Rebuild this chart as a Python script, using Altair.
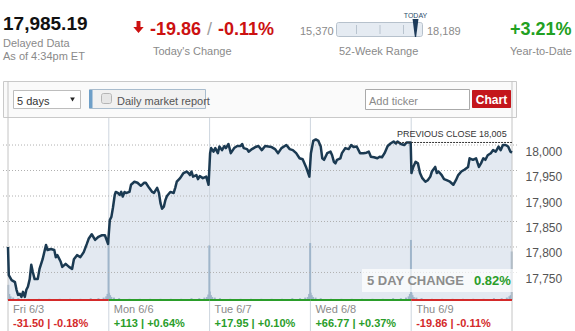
import altair as alt
import pandas as pd

FONT = "Liberation Sans"

# ---------------- data ----------------
DAYS = ["Fri 6/3", "Mon 6/6", "Tue 6/7", "Wed 6/8", "Thu 6/9"]
DAY_CHANGE = ["-31.50 | -0.18%", "+113 | +0.64%", "+17.95 | +0.10%", "+66.77 | +0.37%", "-19.86 | -0.11%"]
DAY_DIR = ["down", "up", "up", "up", "down"]

FRI_MIN = [0, 3, 14, 27, 33, 39, 46, 52, 58, 65, 71, 77, 84, 90, 96, 103, 115, 122, 134,
           147, 153, 166, 179, 185, 191, 204, 210, 223, 236, 248, 255, 267, 280, 293, 305,
           312, 324, 337, 350, 362, 375, 387]
FRI_PX = [17800, 17745, 17735, 17731, 17716, 17706, 17708, 17702, 17712, 17702, 17716, 17722,
          17737, 17765, 17751, 17737, 17737, 17757, 17776, 17804, 17794, 17796, 17794, 17780,
          17784, 17771, 17761, 17767, 17761, 17757, 17776, 17784, 17780, 17790, 17806, 17816,
          17825, 17814, 17820, 17823, 17823, 17806]

MON_MIN = [4, 10, 16, 23, 27, 35, 42, 48, 54, 61, 67, 80, 86, 99, 111, 124, 137, 143, 156, 168,
           175, 187, 194, 200, 206, 213, 219, 225, 238, 251, 257, 263, 276, 289, 301, 308, 314,
           320, 326, 339, 345, 352, 364, 377, 386]
MON_PX = [17853, 17859, 17877, 17902, 17908, 17906, 17902, 17908, 17899, 17908, 17906, 17908,
          17922, 17928, 17926, 17920, 17926, 17926, 17916, 17908, 17906, 17916, 17906, 17886,
          17875, 17879, 17892, 17900, 17908, 17906, 17916, 17928, 17935, 17945, 17948, 17945,
          17941, 17948, 17938, 17941, 17933, 17939, 17935, 17938, 17922]

TUE_MIN = [2, 6, 15, 22, 32, 38, 48, 57, 63, 73, 82, 95, 107, 120, 126, 132, 145, 151, 164, 177,
           189, 202, 215, 227, 240, 253, 265, 278, 297, 310, 322, 335, 348, 360, 373, 386]
TUE_PX = [17984, 17994, 17987, 17994, 17984, 17997, 17990, 17998, 17994, 18002, 17984, 17994,
          17998, 17998, 18002, 17994, 17992, 17987, 17992, 17996, 17998, 17990, 17998, 17997,
          17996, 17992, 17984, 17994, 18000, 17992, 17990, 17984, 17974, 17972, 17957, 17938]

WED_MIN = [2, 11, 21, 31, 40, 46, 53, 65, 78, 84, 91, 97, 103, 116, 122, 135, 148, 158, 167, 179,
           192, 205, 217, 226, 234, 246, 259, 268, 277, 287, 299, 310, 322, 331, 337, 350, 363,
           373, 382, 388]
WED_PX = [17984, 18008, 18011, 18008, 17997, 17974, 17971, 17984, 17987, 17980, 17967, 17964,
          17971, 17974, 17984, 17994, 17992, 18000, 17996, 17997, 17984, 17984, 17985, 17987,
          17977, 17976, 17974, 17977, 17976, 17984, 17998, 18003, 18007, 18003, 18007, 18002,
          18000, 18005, 18005, 18005]

THU_MIN = [1, 8, 17, 26, 34, 43, 55, 64, 74, 80, 93, 99, 106, 118, 127, 137, 150, 163, 173, 182,
           194, 207, 220, 226, 239, 251, 262, 270, 279, 287, 296, 308, 317, 327, 338, 346, 355,
           365, 375, 384, 390]
THU_PX = [17945, 17957, 17967, 17964, 17945, 17935, 17928, 17931, 17938, 17948, 17957, 17945,
          17948, 17941, 17933, 17931, 17928, 17922, 17931, 17941, 17948, 17952, 17957, 17974,
          17971, 17974, 17957, 17964, 17974, 17971, 17980, 17984, 17990, 17987, 17997, 17990,
          18000, 18000, 17997, 17987, 17985]

VOL_MIN = [1, 5, 10, 20, 40, 80, 120, 160, 200, 240, 280, 320, 350, 370, 380, 385, 389]
FRI_VOL = [25, 10, 6, 4, 3, 2, 2, 2, 2, 2, 2, 3, 3, 4, 6, 10, 98]
MON_VOL = [12, 8, 5, 4, 3, 2, 2, 2, 2, 2, 2, 3, 3, 4, 5, 9, 90]
TUE_VOL = [14, 8, 5, 4, 3, 2, 2, 2, 2, 2, 2, 3, 3, 4, 5, 10, 94]
WED_VOL = [12, 8, 5, 4, 3, 2, 2, 2, 2, 2, 2, 3, 3, 4, 6, 10, 99]
THU_VOL = [12, 8, 5, 4, 3, 2, 2, 2, 2, 2, 2, 3, 3, 4, 6, 8, 80]

Y_TICKS = [17750, 17800, 17850, 17900, 17950, 18000]
Y_DOMAIN = [17696, 18053]
PREV_CLOSE = 18005
PREV_CLOSE_START = 3.85
SESSION_MIN = 390

# ---------------- tables ----------------
price_rows = []
for d, (mins, pxs) in enumerate([(FRI_MIN, FRI_PX), (MON_MIN, MON_PX), (TUE_MIN, TUE_PX),
                                 (WED_MIN, WED_PX), (THU_MIN, THU_PX)]):
    for m, p in zip(mins, pxs):
        price_rows.append({"t": d + m / SESSION_MIN, "price": p})
price_df = pd.DataFrame(price_rows)

vol_rows = []
for d, vols in enumerate([FRI_VOL, MON_VOL, TUE_VOL, WED_VOL, THU_VOL]):
    for m, v in zip(VOL_MIN, vols):
        vol_rows.append({"t": d + m / SESSION_MIN, "vol": v})
vol_df = pd.DataFrame(vol_rows)

days_df = pd.DataFrame({
    "d0": list(range(5)), "d1": list(range(1, 6)),
    "day": DAYS, "chg": DAY_CHANGE, "dir": DAY_DIR,
})
bounds_df = pd.DataFrame({"b": [1, 2, 3, 4]})
edges_df = pd.DataFrame({"b": [0, 5]})
ticks_df = pd.DataFrame({"tick": Y_TICKS})
prev_df = pd.DataFrame({"t0": [PREV_CLOSE_START], "t1": [5], "p": [PREV_CLOSE],
                        "label": ["PREVIOUS CLOSE 18,005"]})
one = pd.DataFrame({"k": [0]})

xs = alt.Scale(domain=[0, 5], nice=False, zero=False)
ys = alt.Scale(domain=Y_DOMAIN, nice=False, zero=False)
dir_scale = alt.Scale(domain=["up", "down"], range=["#2a9d2a", "#d42a2a"])

W, H = 514, 182

# ---------------- helpers ----------------
def txt(s, x, y, size=11, color="#8a8a8a", weight="normal", align="left", font=FONT):
    return alt.Chart(one).mark_text(
        text=s, fontSize=size, color=color, fontWeight=weight, align=align,
        baseline="alphabetic", font=font
    ).encode(x=alt.value(x), y=alt.value(y))


def box(x0, x1, y0, y1, fill, stroke=None, radius=0, opacity=1):
    kw = dict(fill=fill, cornerRadius=radius, opacity=opacity)
    if stroke:
        kw["stroke"] = stroke
        kw["strokeWidth"] = 1
    return alt.Chart(one).mark_rect(**kw).encode(
        x=alt.value(x0), x2=alt.value(x1), y=alt.value(y0), y2=alt.value(y1))


# ---------------- chart layers ----------------
toolbar = box(0.5, 513.5, -36.5, -0.5, "#fafafa", "#c9c9c9")

area = alt.Chart(price_df).mark_area(color="#e3e9f1", clip=True).encode(
    x=alt.X("t:Q", scale=xs, axis=None),
    y=alt.Y("price:Q", scale=ys, axis=None),
)

volume = alt.Chart(vol_df).mark_bar(size=2, color="#9fb5ca").encode(
    x=alt.X("t:Q", scale=xs, axis=None),
    y=alt.Y("vol:Q", scale=alt.Scale(domain=[0, 300]), axis=None),
)

grid = alt.Chart(ticks_df).mark_rule(color="#b0b0b0", strokeDash=[1, 2], strokeWidth=1).encode(
    y=alt.Y("tick:Q", scale=ys, axis=alt.Axis(
        orient="right", values=Y_TICKS, format=",d", domain=False, ticks=False, grid=False,
        labelOffset=6, labelPadding=8, labelColor="#555555", labelFontSize=12, labelFont=FONT,
        title=None)),
)

dividers = alt.Chart(bounds_df).mark_rule(color="#cdd5de", strokeWidth=1).encode(
    x=alt.X("b:Q", scale=xs, axis=None), y=alt.value(0), y2=alt.value(213))

edges = alt.Chart(edges_df).mark_rule(color="#c4c4c4", strokeWidth=1).encode(
    x=alt.X("b:Q", scale=xs, axis=None), y=alt.value(-37), y2=alt.value(213))

line = alt.Chart(price_df).mark_line(color="#1b3a52", strokeWidth=2.5, strokeJoin="round",
                                     clip=True).encode(
    x=alt.X("t:Q", scale=xs, axis=None),
    y=alt.Y("price:Q", scale=ys, axis=None),
)

prev_rule = alt.Chart(prev_df).mark_rule(color="#333333", strokeDash=[2, 1], strokeWidth=1).encode(
    x=alt.X("t0:Q", scale=xs, axis=None), x2="t1:Q",
    y=alt.Y("p:Q", scale=ys, axis=None))
prev_text = alt.Chart(prev_df).mark_text(
    align="left", baseline="alphabetic", dy=-5, dx=1, fontSize=9, color="#333333", font=FONT
).encode(x=alt.X("t0:Q", scale=xs, axis=None), y=alt.Y("p:Q", scale=ys, axis=None),
         text="label:N")

chg_box = box(359, 514, 151, 174, "#ffffff", opacity=0.7)
chg_t1 = txt("5 DAY CHANGE", 364, 167, size=13, color="#8c8c8c", weight="bold")
chg_t2 = txt("0.82%", 471, 167, size=13, color="#2a9d2a", weight="bold")

baseline_rule = alt.Chart(days_df).mark_rule(strokeWidth=2).encode(
    x=alt.X("d0:Q", scale=xs, axis=None), x2="d1:Q", y=alt.value(182),
    color=alt.Color("dir:N", scale=dir_scale, legend=None))

day_lbl = alt.Chart(days_df).mark_text(
    align="left", baseline="alphabetic", dx=5, fontSize=11, color="#8a8a8a", font=FONT
).encode(x=alt.X("d0:Q", scale=xs, axis=None), y=alt.value(195), text="day:N")

day_chg = alt.Chart(days_df).mark_text(
    align="left", baseline="alphabetic", dx=5, fontSize=11, fontWeight="bold", font=FONT
).encode(x=alt.X("d0:Q", scale=xs, axis=None), y=alt.value(209), text="chg:N",
         color=alt.Color("dir:N", scale=dir_scale, legend=None))

# header
ARROW = "M-0.32,-1 L0.32,-1 L0.32,0 L0.85,0 L0,1 L-0.85,0 L-0.32,0 Z"
NEEDLE = "M-0.33,-1 L0.33,-1 L0.07,1 L-0.07,1 Z"
header = [
    txt("17,985.19", 0, -88, size=19, color="#111111", weight="bold"),
    txt("Delayed Data", 0, -71.5),
    txt("As of 4:34pm ET", 0, -58.5),
    alt.Chart(one).mark_point(shape=ARROW, filled=True, color="#cc1111", size=150, opacity=1).encode(
        x=alt.value(135.5), y=alt.value(-91)),
    txt("-19.86", 147, -83, size=18, color="#cc1111", weight="bold"),
    txt("/", 204, -83, size=18, color="#a0a0a0"),
    txt("-0.11%", 215, -83, size=18, color="#cc1111", weight="bold"),
    txt("Today's Change", 150, -63.5),
    txt("15,370", 297, -83),
    box(333.5, 419.5, -95.5, -81.5, "#e5ebf2", "#b6c1cc", radius=2),
    alt.Chart(pd.DataFrame({"x": [353.5, 377, 400.5]})).mark_rule(color="#b9c4cf").encode(
        x=alt.X("x:Q", scale=None), y=alt.value(-93), y2=alt.value(-84)),
    alt.Chart(one).mark_point(shape=NEEDLE, filled=True, color="#1d3b5a", size=324, opacity=1).encode(
        x=alt.value(412.5), y=alt.value(-90)),
    txt("TODAY", 412.5, -100.5, size=7, color="#2b4b6b", align="center"),
    txt("18,189", 424, -83),
    txt("52-Week Range", 336, -63.5),
    txt("+3.21%", 507, -83, size=18, color="#22a022", weight="bold"),
    txt("Year-to-Date", 507, -63.5),
]

# toolbar widgets
widgets = [
    box(10.5, 77.5, -27.5, -9.5, "#ffffff", "#bdbdbd"),
    txt("5 days", 14, -13.5, color="#333333"),
    alt.Chart(one).mark_point(shape="triangle-down", filled=True, color="#222222", size=22,
                              opacity=1).encode(x=alt.value(69.5), y=alt.value(-18.5)),
    box(86.5, 202.5, -28.5, -9.5, "#f1f1f1", "#a9bccd"),
    box(86, 89.5, -28, -10, "#6e9fc8"),
    box(98.5, 108.5, -24.5, -14.5, "#e6e6e6", "#b5b5b5", radius=2),
    txt("Daily market report", 114, -13.5, color="#555555"),
    box(362.5, 466.5, -28.5, -8.5, "#ffffff", "#aaaaaa"),
    txt("Add ticker", 366, -13.5, color="#8a8a8a"),
    box(469, 508, -28, -10, "#c4161c", radius=1),
    txt("Chart", 488.5, -14, size=12, color="#ffffff", weight="bold", align="center"),
]

layers = [toolbar, area, dividers, volume, grid, edges, line, prev_rule, prev_text,
          chg_box, chg_t1, chg_t2, baseline_rule, day_lbl, day_chg] + header + widgets

chart = alt.layer(*layers).resolve_scale(y="independent").properties(
    width=W, height=H,
    autosize=alt.AutoSizeParams(type="none"),
    padding={"left": 3, "top": 118, "right": 58, "bottom": 31},
    background="#ffffff",
).configure_view(stroke=None)

chart.save("out.html", embed_options={"renderer": "svg", "actions": False})
